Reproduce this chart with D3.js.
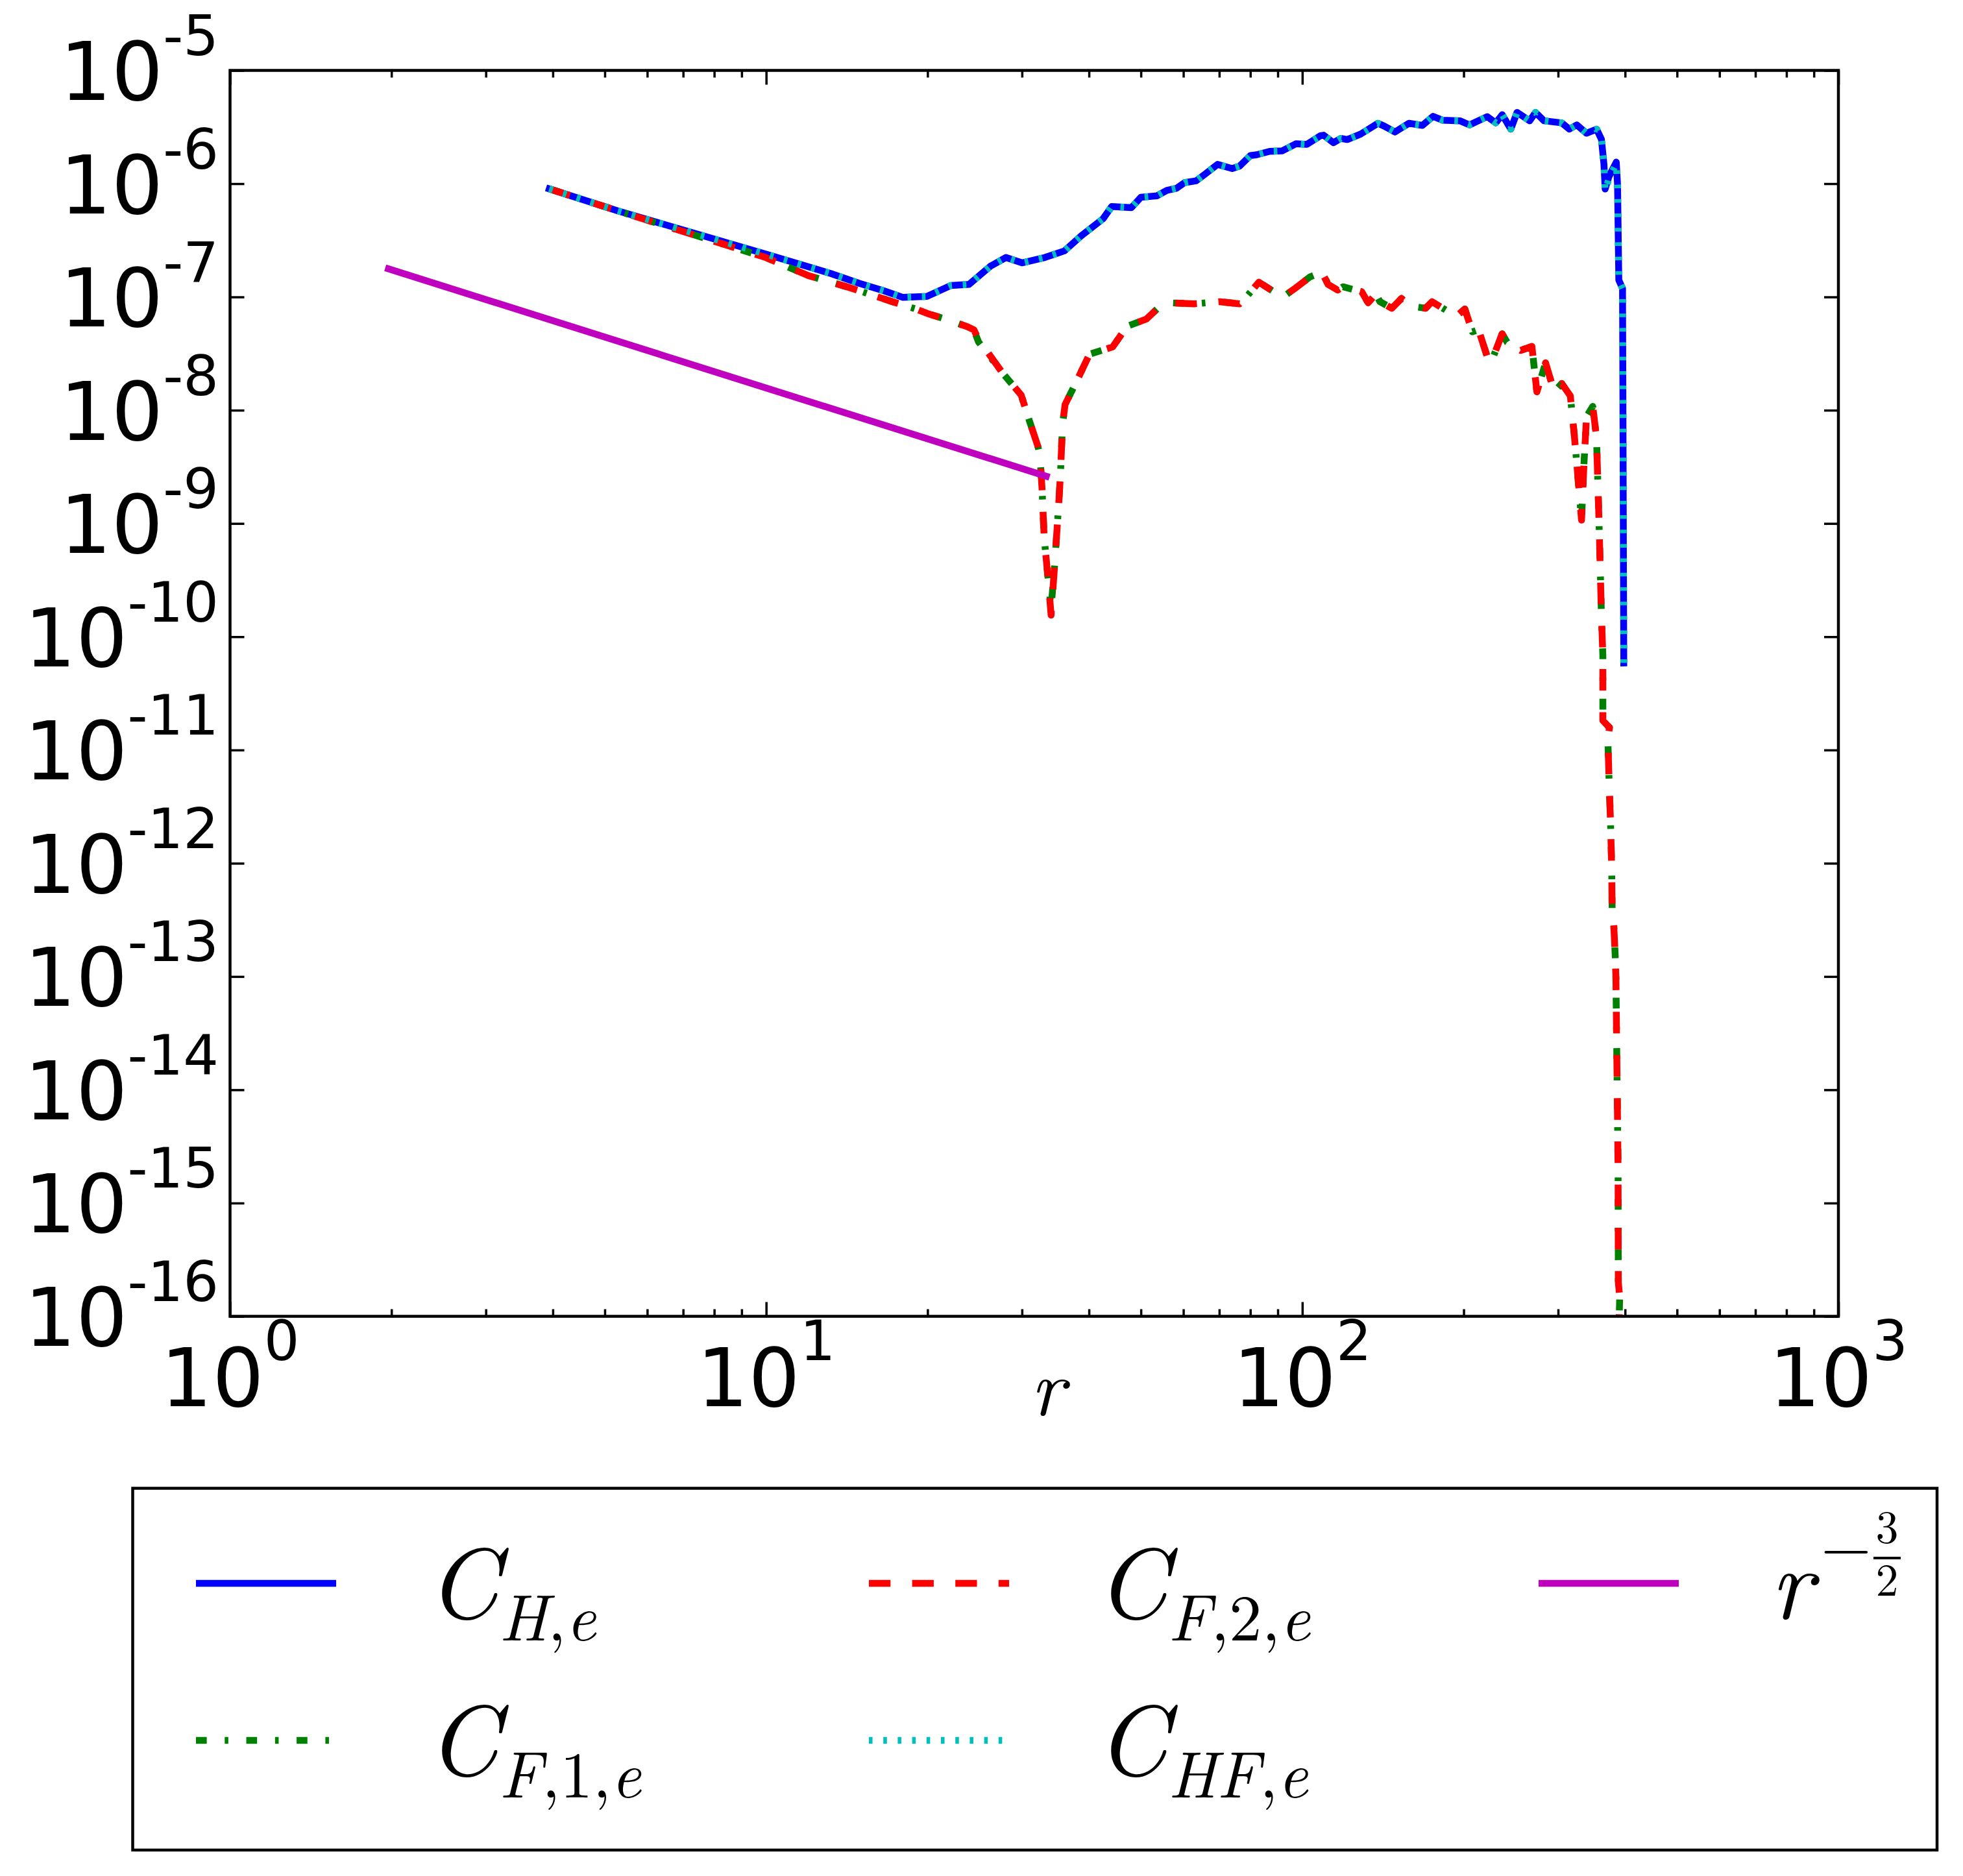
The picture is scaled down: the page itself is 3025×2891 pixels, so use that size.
<!DOCTYPE html>
<html><head><meta charset="utf-8">
<script src="https://cdn.jsdelivr.net/npm/d3@7"></script>
<style>body{margin:0;background:#fff}svg{display:block}</style>
</head><body>
<svg id="chart" width="3025" height="2891"></svg>
<script>
// ---------------- data ----------------
const rH = [3.94,5.29,9.98,11.7,13.2,14.9,16.6,18.0,19.95,22.1,23.9,26.2,28.0,30.0,33.1,36.0,38.7,42.5,44.1,48.0,50.0,53.6,55.9,58.3,60.3,63.4,65.8,69.5,74.0,76.4,80.0,82.2,86.9,91.8,97.3,101.9,108.1,109.6,114.3,118.0,121.3,128.5,138.4,142.2,148.9,158.1,167.5,175.4,182.8,196.8,205.1,221.3,229.6,236.0,244.9,251.5,265.5,272.3,282.5,304.8,314.8,325.1,338.8,354.0,361.4,365.3,367.2,373.1,385.2,387.3,389.4,395.7,397.8];
const cH = [9.0e-7,5.75e-7,2.39e-7,1.91e-7,1.61e-7,1.32e-7,1.13e-7,9.9e-8,1.01e-7,1.26e-7,1.29e-7,1.87e-7,2.23e-7,2.0e-7,2.23e-7,2.55e-7,3.47e-7,4.9e-7,6.28e-7,6.14e-7,7.59e-7,7.82e-7,8.73e-7,9.12e-7,1.02e-6,1.06e-6,1.21e-6,1.48e-6,1.36e-6,1.43e-6,1.77e-6,1.80e-6,1.93e-6,1.95e-6,2.25e-6,2.22e-6,2.65e-6,2.68e-6,2.30e-6,2.51e-6,2.45e-6,2.74e-6,3.41e-6,3.22e-6,2.86e-6,3.41e-6,3.27e-6,3.93e-6,3.63e-6,3.59e-6,3.30e-6,3.91e-6,3.44e-6,4.07e-6,3.03e-6,4.26e-6,3.59e-6,4.26e-6,3.59e-6,3.44e-6,3.03e-6,3.30e-6,2.79e-6,3.03e-6,2.46e-6,1.49e-6,8.97e-7,1.15e-6,1.55e-6,9.77e-7,1.41e-7,1.19e-7,5.87e-11];

const rHF = rH;
const cHF = [9.0e-7,5.75e-7,2.39e-7,1.91e-7,1.61e-7,1.32e-7,1.13e-7,9.9e-8,1.01e-7,1.26e-7,1.29e-7,1.87e-7,2.23e-7,2.0e-7,2.23e-7,2.55e-7,3.47e-7,4.9e-7,6.28e-7,6.14e-7,7.59e-7,7.82e-7,8.73e-7,9.12e-7,1.02e-6,1.06e-6,1.21e-6,1.48e-6,1.36e-6,1.43e-6,1.77e-6,1.80e-6,1.93e-6,1.95e-6,2.25e-6,2.22e-6,2.65e-6,2.68e-6,2.30e-6,2.51e-6,2.45e-6,2.74e-6,3.41e-6,3.22e-6,2.86e-6,3.41e-6,3.27e-6,3.93e-6,3.63e-6,3.59e-6,3.30e-6,3.91e-6,3.44e-6,4.07e-6,3.03e-6,4.26e-6,3.59e-6,4.26e-6,3.59e-6,3.44e-6,3.03e-6,3.30e-6,2.79e-6,3.03e-6,2.46e-6,1.42e-6,8.6e-7,1.10e-6,1.50e-6,9.5e-7,1.41e-7,1.19e-7,5.87e-11];

const rF2 = [3.94,5.29,9.98,12.0,14.3,17.2,19.1,20.0,21.6,23.7,24.4,24.9,27.6,29.9,31.0,32.1,32.4,32.7,33.0,33.6,34.0,34.5,35.1,35.4,35.7,36.1,38.0,40.1,44.3,47.1,51.2,54.3,56.7,62.8,70.2,76.4,78.2,83.0,89.3,91.8,96.7,103.3,109.1,111.7,116.4,119.1,129.1,132.7,137.1,139.6,146.9,153.1,159.6,169.8,174.6,186.6,194.7,201.0,207.6,213.2,221.3,224.9,235.9,241.0,248.8,255.5,268.1,273.9,284.3,295.1,304.7,316.2,321.4,324.9,331.8,335.4,339.0,348.2,353.8,357.6,361.4,363.6,363.6,374.1,371.5,373.3,375.8,377.6,378.4,381.1,383.3,384.6,388.2,388.6,390.9,388.6];
const cF2 = [9.0e-7,5.75e-7,2.23e-7,1.54e-7,1.21e-7,9.08e-8,7.78e-8,7.13e-8,6.38e-8,5.47e-8,5.13e-8,4.22e-8,2.13e-8,1.36e-8,7.96e-9,4.86e-9,4.04e-9,2.04e-9,7.6e-10,3.07e-10,1.55e-10,4.15e-10,1.39e-9,2.75e-9,7.38e-9,1.12e-8,1.83e-8,3.12e-8,3.62e-8,5.50e-8,6.38e-8,8.30e-8,8.87e-8,8.69e-8,9.08e-8,8.69e-8,9.68e-8,1.35e-7,1.08e-7,9.91e-8,1.18e-7,1.50e-7,1.61e-7,1.29e-7,1.15e-7,1.23e-7,1.11e-7,8.87e-8,1.06e-7,9.08e-8,7.94e-8,9.68e-8,8.30e-8,7.94e-8,9.08e-8,7.50e-8,6.89e-8,7.82e-8,4.92e-8,5.13e-8,2.97e-8,2.62e-8,4.72e-8,3.99e-8,3.66e-8,3.37e-8,3.66e-8,1.45e-8,2.62e-8,1.45e-8,1.72e-8,1.34e-8,6.27e-9,3.48e-9,1.07e-9,3.48e-9,8.79e-9,1.08e-8,5.75e-9,1.07e-9,1.55e-10,6.84e-11,1.82e-11,1.58e-11,1.23e-11,5.75e-12,2.29e-12,9.55e-13,3.98e-13,2.82e-13,1.58e-13,9.77e-14,2.0e-15,2.0e-16,1.48e-16,5.0e-17];

const rF1 = rF2;
const cF1 = [9.0e-7,5.75e-7,2.23e-7,1.54e-7,1.21e-7,9.08e-8,7.78e-8,7.13e-8,6.38e-8,5.47e-8,5.13e-8,4.0e-8,2.13e-8,1.36e-8,7.96e-9,4.86e-9,4.04e-9,2.04e-9,7.6e-10,3.07e-10,1.8e-10,4.15e-10,1.39e-9,2.75e-9,7.38e-9,1.12e-8,1.83e-8,3.12e-8,3.62e-8,5.50e-8,6.38e-8,8.30e-8,8.87e-8,8.69e-8,9.08e-8,8.69e-8,9.68e-8,1.35e-7,1.08e-7,9.91e-8,1.18e-7,1.50e-7,1.66e-7,1.29e-7,1.15e-7,1.23e-7,1.11e-7,8.87e-8,1.06e-7,9.08e-8,7.94e-8,9.68e-8,8.30e-8,7.94e-8,9.08e-8,7.50e-8,6.89e-8,7.82e-8,4.92e-8,5.13e-8,2.97e-8,2.62e-8,4.72e-8,3.99e-8,3.66e-8,3.37e-8,3.66e-8,1.45e-8,2.62e-8,1.45e-8,1.72e-8,1.34e-8,6.27e-9,3.48e-9,1.07e-9,3.48e-9,8.79e-9,1.08e-8,5.75e-9,1.07e-9,1.55e-10,6.84e-11,1.82e-11,1.58e-11,1.23e-11,5.75e-12,2.29e-12,9.55e-13,3.98e-13,2.82e-13,1.58e-13,9.77e-14,2.0e-15,2.0e-16,1.48e-16,5.0e-17];

const rRef = [1.975, 33.3];
const cRef = [1.77e-7, 2.61e-9];

const xMajor = [1, 10, 100, 1000];
const xMajorExp = ['0', '1', '2', '3'];
const xMinor = [2,3,4,5,6,7,8,9,20,30,40,50,60,70,80,90,200,300,400,500,600,700,800,900];
const yMajor = [1e-16,1e-15,1e-14,1e-13,1e-12,1e-11,1e-10,1e-9,1e-8,1e-7,1e-6,1e-5];
const yMajorExp = ['-16','-15','-14','-13','-12','-11','-10','-9','-8','-7','-6','-5'];

// ---------------- layout ----------------
const MATH = 'Latin Modern Roman, CMU Serif, Liberation Serif, serif';
const SANS = 'DejaVu Sans, sans-serif';
const X0 = 354.5, X1 = 2833, Y0 = 108.5, Y1 = 2028.5;
const svg = d3.select('#chart');
const x = d3.scaleLog().domain([1, 1000]).range([X0, X1]);
const y = d3.scaleLog().domain([1e-16, 1e-5]).range([Y1, Y0]);

const LW = 10.5;
const series = [
  {r: rH,  c: cH,  color: '#0000ff', dash: null},
  {r: rF1, c: cF1, color: '#008000', dash: '16.6,27.7,5.55,27.7'},
  {r: rF2, c: cF2, color: '#ff0000', dash: '33.3,33.3'},
  {r: rHF, c: cHF, color: '#00bfbf', dash: '5.55,16.65'},
  {r: rRef, c: cRef, color: '#bf00bf', dash: null}
];

svg.append('defs').append('clipPath').attr('id', 'clip')
  .append('rect').attr('x', X0).attr('y', Y0).attr('width', X1 - X0).attr('height', Y1 - Y0);

const line = d3.line().x(d => x(d[0])).y(d => y(d[1]));
const plot = svg.append('g').attr('clip-path', 'url(#clip)');
series.forEach(s => {
  plot.append('path')
    .attr('d', line(s.r.map((r, i) => [r, s.c[i]])))
    .attr('fill', 'none')
    .attr('stroke', s.color)
    .attr('stroke-width', LW)
    .attr('stroke-linejoin', 'round')
    .attr('stroke-linecap', s.dash ? 'butt' : 'square')
    .attr('stroke-dasharray', s.dash);
});

// ---------------- axes (ticks inside, all four sides) ----------------
function styleAxis(g) {
  g.select('.domain').remove();
  g.selectAll('.tick line').attr('stroke', '#000').attr('stroke-width', 3.5);
  g.selectAll('.tick text').remove();
}
svg.append('g').attr('transform', `translate(0,${Y1})`)
  .call(d3.axisBottom(x).tickValues(xMajor).tickSize(-22).tickFormat('')).call(styleAxis);
svg.append('g').attr('transform', `translate(0,${Y1})`)
  .call(d3.axisBottom(x).tickValues(xMinor).tickSize(-11).tickFormat('')).call(styleAxis);
svg.append('g').attr('transform', `translate(0,${Y0})`)
  .call(d3.axisTop(x).tickValues(xMajor).tickSize(-22).tickFormat('')).call(styleAxis);
svg.append('g').attr('transform', `translate(0,${Y0})`)
  .call(d3.axisTop(x).tickValues(xMinor).tickSize(-11).tickFormat('')).call(styleAxis);
svg.append('g').attr('transform', `translate(${X0},0)`)
  .call(d3.axisLeft(y).tickValues(yMajor).tickSize(-22).tickFormat('')).call(styleAxis);
svg.append('g').attr('transform', `translate(${X1},0)`)
  .call(d3.axisRight(y).tickValues(yMajor).tickSize(-22).tickFormat('')).call(styleAxis);

svg.append('rect').attr('x', X0).attr('y', Y0).attr('width', X1 - X0).attr('height', Y1 - Y0)
  .attr('fill', 'none').attr('stroke', '#000').attr('stroke-width', 4.5);

// tick labels 10^n
function powLabel(px, py, exp, anchor, raise) {
  const t = svg.append('text').attr('x', px).attr('y', py).attr('text-anchor', anchor)
    .attr('font-family', SANS).attr('font-size', 125).attr('fill', '#000');
  t.append('tspan').text('10');
  t.append('tspan').attr('dx', 0).attr('dy', -raise).attr('font-size', 86).text(exp);
}
xMajor.forEach((v, i) => powLabel(x(v), 2167, xMajorExp[i], 'middle', 71));
yMajor.forEach((v, i) => powLabel(337, y(v) + 45.5, yMajorExp[i], 'end', 69));

// x axis label
svg.append('text').attr('x', 1614).attr('y', 2181).attr('text-anchor', 'middle')
  .attr('font-family', MATH).attr('font-style', 'italic').attr('font-size', 125)
  .text('r');

// ---------------- legend ----------------
svg.append('rect').attr('x', 204.5).attr('y', 2293.5).attr('width', 2780.5).attr('height', 557.5)
  .attr('fill', '#fff').attr('stroke', '#000').attr('stroke-width', 4.5);

const legRows = [2440, 2682];
const legCols = [302, 1339, 2371];
const legTextX = [658, 1689, 2728];
const legItems = [
  {s: 0, col: 0, row: 0, main: 'C', sub: [['H', 1], [',', 0], ['e', 1]]},
  {s: 1, col: 0, row: 1, main: 'C', sub: [['F', 1], [',1,', 0], ['e', 1]]},
  {s: 2, col: 1, row: 0, main: 'C', sub: [['F', 1], [',2,', 0], ['e', 1]]},
  {s: 3, col: 1, row: 1, main: 'C', sub: [['HF', 1], [',', 0], ['e', 1]]},
  {s: 4, col: 2, row: 0, main: 'r', sub: null}
];
legItems.forEach(it => {
  const s = series[it.s];
  const ly = legRows[it.row], lx = legCols[it.col];
  svg.append('line').attr('x1', lx).attr('x2', lx + 216).attr('y1', ly).attr('y2', ly)
    .attr('stroke', s.color).attr('stroke-width', LW).attr('stroke-dasharray', s.dash)
    .attr('stroke-linecap', 'butt');
  const base = ly + 54;
  const t = svg.append('text').attr('x', legTextX[it.col]).attr('y', base)
    .attr('font-family', MATH).attr('font-size', 155).attr('fill', '#000');
  t.append('tspan').attr('font-style', 'italic').text(it.main);
  if (it.sub) {
    it.sub.forEach((p, k) => {
      const sp = t.append('tspan').attr('font-size', 101)
        .attr('font-style', p[1] ? 'italic' : 'normal').text(p[0]);
      if (k === 0) sp.attr('dy', 34).attr('dx', 0);
    });
  }
});
// exponent of r^{-3/2}
svg.append('text').attr('x', 2806).attr('y', 2417)
  .attr('font-family', MATH).attr('font-size', 100).text('\u2212');
svg.append('text').attr('x', 2908).attr('y', 2377).attr('text-anchor', 'middle')
  .attr('font-family', MATH).attr('font-size', 70).text('3');
svg.append('line').attr('x1', 2887).attr('x2', 2929).attr('y1', 2401).attr('y2', 2401)
  .attr('stroke', '#000').attr('stroke-width', 4);
svg.append('text').attr('x', 2908).attr('y', 2459).attr('text-anchor', 'middle')
  .attr('font-family', MATH).attr('font-size', 70).text('2');
</script>
</body></html>
